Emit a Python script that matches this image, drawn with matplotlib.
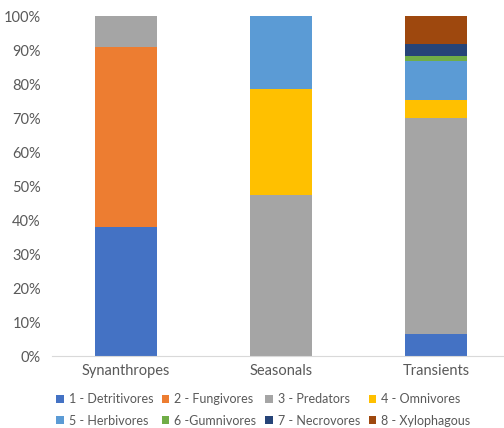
import matplotlib.pyplot as plt
import numpy as np

plt.rcParams['font.family'] = ['Lato', 'DejaVu Sans']

groups = ['Synanthropes', 'Seasonals', 'Transients']
guilds = ['1 - Detritivores', '2 - Fungivores', '3 - Predators', '4 - Omnivores',
          '5 - Herbivores', '6 -Gumnivores', '7 - Necrovores', '8 - Xylophagous']
colors = ['#4472C4', '#ED7D31', '#A5A5A5', '#FFC000',
          '#5B9BD5', '#70AD47', '#264478', '#9E480E']

# percent of each guild in each group
detritivores = [38.0, 0.0, 6.5]
fungivores = [53.0, 0.0, 0.0]
predators = [9.0, 47.5, 63.5]
omnivores = [0.0, 31.0, 5.3]
herbivores = [0.0, 21.5, 11.5]
gumnivores = [0.0, 0.0, 1.5]
necrovores = [0.0, 0.0, 3.5]
xylophagous = [0.0, 0.0, 8.2]
series = [detritivores, fungivores, predators, omnivores,
          herbivores, gumnivores, necrovores, xylophagous]

fig = plt.figure(figsize=(5.04, 4.28), dpi=100)
ax = fig.add_axes([52 / 504, 1 - 356 / 428, 452 / 504, 340 / 428])

x = np.arange(len(groups))
bottom = np.zeros(len(groups))
for name, vals, c in zip(guilds, series, colors):
    vals = np.array(vals)
    ax.bar(x, vals, 0.4, bottom=bottom, color=c, label=name)
    bottom += vals

ax.set_xlim(-0.477, 2.44)
ax.set_ylim(0, 100)
ax.set_yticks(np.arange(0, 101, 10))
ax.set_yticklabels([f'{v}%' for v in range(0, 101, 10)])
ax.set_xticks(x)
ax.set_xticklabels(groups)
ax.tick_params(axis='both', length=0, colors='#595959', labelsize=10.5)
ax.tick_params(axis='y', pad=8)
ax.tick_params(axis='x', pad=6)
for s in ['top', 'right', 'left']:
    ax.spines[s].set_visible(False)
ax.spines['bottom'].set_color('#D9D9D9')

# legend fills row by row, matplotlib fills by column: reorder
handles, labels = ax.get_legend_handles_labels()
order = [0, 4, 1, 5, 2, 6, 3, 7]
leg = fig.legend([handles[i] for i in order], [labels[i] for i in order],
                 loc='center', bbox_to_anchor=(0.522, 0.042), ncol=4, frameon=False,
                 fontsize=9, handlelength=0.6, handleheight=0.6, handletextpad=0.4,
                 columnspacing=0.7, labelspacing=0.75)
for t in leg.get_texts():
    t.set_color('#595959')

fig.savefig('out.png', dpi=100)
